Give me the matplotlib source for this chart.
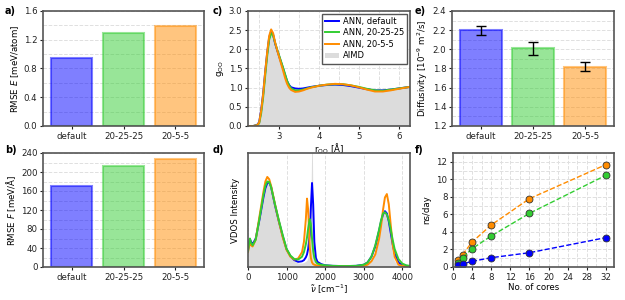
import numpy as np
import matplotlib.pyplot as plt
from matplotlib.ticker import MultipleLocator

# ---- data ----
models = ["default", "20-25-25", "20-5-5"]
rmse_e = [0.94, 1.30, 1.39]
rmse_f = [171, 212, 228]
diffusivity = [2.20, 2.01, 1.82]
diffusivity_err = [0.048, 0.066, 0.047]

cores = [1, 2, 4, 8, 16, 32]
nsday_default = [0.19, 0.34, 0.65, 1.06, 1.63, 3.35]
nsday_20_25_25 = [0.50, 1.06, 2.09, 3.54, 6.12, 10.46]
nsday_20_5_5 = [0.76, 1.41, 2.85, 4.79, 7.79, 11.67]

r_oo = [2.22, 2.35, 2.45, 2.50, 2.55, 2.60, 2.65, 2.70, 2.75, 2.80, 2.85, 2.90,
        2.95, 3.00, 3.05, 3.10, 3.15, 3.20, 3.25, 3.30, 3.40, 3.50, 3.60, 3.70,
        3.80, 4.00, 4.20, 4.40, 4.60, 4.80, 5.00, 5.20, 5.40, 5.60, 5.80, 6.00, 6.28]
g_default = [0, 0, 0.03, 0.10, 0.42, 0.85, 1.40, 1.90, 2.30, 2.47, 2.38, 2.15,
             1.98, 1.82, 1.66, 1.50, 1.33, 1.17, 1.07, 1.01, 0.98, 0.97, 0.98, 1.00,
             1.02, 1.05, 1.07, 1.08, 1.07, 1.04, 1.00, 0.96, 0.93, 0.93, 0.95, 0.98, 1.02]
g_20_25_25 = [0, 0, 0.02, 0.07, 0.33, 0.75, 1.30, 1.82, 2.25, 2.42, 2.36, 2.17,
              2.00, 1.84, 1.68, 1.52, 1.35, 1.18, 1.06, 0.98, 0.93, 0.93, 0.95, 0.98,
              1.01, 1.05, 1.08, 1.09, 1.09, 1.06, 1.02, 0.97, 0.93, 0.92, 0.95, 0.98, 1.02]
g_20_5_5 = [0, 0, 0.02, 0.09, 0.40, 0.83, 1.40, 1.92, 2.35, 2.52, 2.42, 2.18,
            1.98, 1.80, 1.62, 1.44, 1.25, 1.10, 1.00, 0.94, 0.89, 0.90, 0.93, 0.97,
            1.00, 1.05, 1.08, 1.10, 1.09, 1.06, 1.01, 0.95, 0.90, 0.90, 0.93, 0.97, 1.02]
g_aimd = [0, 0, 0.03, 0.10, 0.40, 0.83, 1.38, 1.90, 2.32, 2.48, 2.40, 2.17,
          1.99, 1.83, 1.67, 1.51, 1.34, 1.17, 1.06, 1.00, 0.96, 0.95, 0.97, 0.99,
          1.01, 1.05, 1.07, 1.08, 1.08, 1.05, 1.01, 0.96, 0.93, 0.92, 0.95, 0.98, 1.02]

freq = [0, 25, 50, 80, 120, 200, 300, 400, 450, 500, 550, 600, 700, 800, 900,
        1000, 1100, 1200, 1300, 1400, 1450, 1500, 1530, 1560, 1600, 1630, 1660,
        1690, 1720, 1760, 1800, 1900, 2000, 2200, 2500, 2800, 3000, 3100, 3200,
        3300, 3400, 3450, 3500, 3550, 3600, 3650, 3700, 3750, 3800, 3900, 4000,
        4100, 4200]
vdos_default = [0.15, 0.20, 0.245, 0.22, 0.20, 0.25, 0.42, 0.61, 0.69, 0.735, 0.745,
                0.70, 0.54, 0.40, 0.27, 0.155, 0.095, 0.06, 0.045, 0.05, 0.06, 0.085,
                0.11, 0.16, 0.28, 0.52, 0.737, 0.55, 0.22, 0.08, 0.045, 0.025, 0.015,
                0.01, 0.008, 0.01, 0.02, 0.04, 0.09, 0.18, 0.32, 0.40, 0.46, 0.49,
                0.47, 0.40, 0.30, 0.20, 0.12, 0.04, 0.015, 0.01, 0.008]
vdos_20_25_25 = [0.14, 0.20, 0.25, 0.21, 0.19, 0.24, 0.43, 0.63, 0.71, 0.75, 0.745,
                 0.70, 0.55, 0.41, 0.28, 0.16, 0.10, 0.07, 0.065, 0.09, 0.13, 0.20,
                 0.26, 0.34, 0.42, 0.38, 0.25, 0.14, 0.08, 0.045, 0.03, 0.02, 0.015,
                 0.01, 0.008, 0.01, 0.02, 0.04, 0.09, 0.19, 0.33, 0.41, 0.47, 0.48,
                 0.46, 0.41, 0.33, 0.24, 0.16, 0.07, 0.03, 0.015, 0.01]
vdos_20_5_5 = [0.13, 0.18, 0.22, 0.19, 0.18, 0.24, 0.45, 0.66, 0.75, 0.79, 0.77,
               0.71, 0.55, 0.40, 0.26, 0.15, 0.09, 0.065, 0.075, 0.13, 0.22, 0.42,
               0.60, 0.50, 0.18, 0.08, 0.04, 0.025, 0.02, 0.015, 0.012, 0.01, 0.008,
               0.008, 0.008, 0.008, 0.01, 0.02, 0.05, 0.11, 0.25, 0.36, 0.50, 0.61,
               0.64, 0.55, 0.37, 0.20, 0.09, 0.02, 0.01, 0.008, 0.006]
vdos_aimd = [0.15, 0.20, 0.24, 0.21, 0.19, 0.24, 0.43, 0.63, 0.71, 0.75, 0.75,
             0.71, 0.56, 0.41, 0.27, 0.15, 0.085, 0.05, 0.035, 0.035, 0.04, 0.05,
             0.06, 0.09, 0.20, 0.50, 1.30, 0.35, 0.10, 0.04, 0.02, 0.01, 0.008,
             0.005, 0.005, 0.006, 0.01, 0.02, 0.05, 0.13, 0.28, 0.38, 0.46, 0.50,
             0.47, 0.37, 0.23, 0.11, 0.05, 0.015, 0.008, 0.005, 0.005]

colors = ["blue", "limegreen", "darkorange"]
frame_col = "#555555"

plt.rcParams["font.size"] = 6.2
plt.rcParams["axes.linewidth"] = 1.2
plt.rcParams["axes.edgecolor"] = frame_col
plt.rcParams["axes.labelpad"] = 2
plt.rcParams["xtick.major.size"] = 2
plt.rcParams["ytick.major.size"] = 2
plt.rcParams["xtick.major.pad"] = 2
plt.rcParams["ytick.major.pad"] = 2
plt.rcParams["xtick.minor.size"] = 0
plt.rcParams["ytick.minor.size"] = 0
plt.rcParams["xtick.color"] = "#222222"
plt.rcParams["ytick.color"] = "#222222"

fig = plt.figure(figsize=(6.25, 3.0), dpi=100)
W, H = 625.0, 300.0


def add_ax(left, top, right, bottom):
    return fig.add_axes([left / W, 1 - bottom / H, (right - left) / W, (bottom - top) / H])


def grid_style(ax, which="both", axis="both"):
    ax.grid(True, which=which, axis=axis, linestyle="--", color="#e0e0e0", linewidth=0.7)
    ax.set_axisbelow(True)


def bar_panel(ax, values, ylim, major, minor, ylabel, err=None):
    x = np.arange(len(models))
    ax.bar(x, values, width=0.8, color=colors, alpha=0.5, edgecolor=colors, linewidth=1.5)
    if err is not None:
        ax.errorbar(x, values, yerr=err, fmt="none", ecolor="black", capsize=3.5, elinewidth=1)
    ax.set_xticks(x)
    ax.set_xticklabels(models)
    ax.set_xlim(-0.55, 2.55)
    ax.set_ylim(*ylim)
    ax.yaxis.set_major_locator(MultipleLocator(major))
    ax.yaxis.set_minor_locator(MultipleLocator(minor))
    grid_style(ax, axis="y")
    ax.set_ylabel(ylabel)


# a)
ax_a = add_ax(43, 11, 204, 126)
bar_panel(ax_a, rmse_e, (0, 1.6), 0.4, 0.2, "RMSE $E$ [meV/atom]")
ax_a.yaxis.set_major_formatter(plt.FormatStrFormatter("%.1f"))

# b)
ax_b = add_ax(43, 153, 204, 267)
bar_panel(ax_b, rmse_f, (0, 240), 40, 20, "RMSE $F$ [meV/Å]")

# e)
ax_e = add_ax(452, 11, 614, 126)
bar_panel(ax_e, diffusivity, (1.2, 2.4), 0.2, 0.1, "Diffusivity [10$^{-9}$ m$^2$/s]",
          err=diffusivity_err)
ax_e.yaxis.set_major_formatter(plt.FormatStrFormatter("%.1f"))

# c) RDF
ax_c = add_ax(248, 11, 410, 126)
ax_c.fill_between(r_oo, g_aimd, color="#dcdcdc", label="AIMD", lw=0)
ax_c.plot(r_oo, g_default, color=colors[0], lw=1.4, label="ANN, default")
ax_c.plot(r_oo, g_20_25_25, color=colors[1], lw=1.4, label="ANN, 20-25-25")
ax_c.plot(r_oo, g_20_5_5, color=colors[2], lw=1.4, label="ANN, 20-5-5")
ax_c.set_xlim(2.22, 6.28)
ax_c.set_ylim(0, 3)
ax_c.xaxis.set_major_locator(MultipleLocator(1))
ax_c.xaxis.set_minor_locator(MultipleLocator(0.5))
ax_c.yaxis.set_major_locator(MultipleLocator(0.5))
ax_c.yaxis.set_major_formatter(plt.FormatStrFormatter("%.1f"))
grid_style(ax_c)
ax_c.set_xlabel(r"r$_{\rm OO}$ [Å]", labelpad=1)
ax_c.set_ylabel(r"g$_{\rm OO}$", labelpad=2)
h, l = ax_c.get_legend_handles_labels()
order = [1, 2, 3, 0]
leg = ax_c.legend([h[i] for i in order], [l[i] for i in order], loc="upper right",
                  fontsize=6.0, handlelength=1.6, fancybox=False, framealpha=1,
                  borderaxespad=0.3, labelspacing=0.3, borderpad=0.4, handletextpad=0.5)
leg.get_frame().set_edgecolor(frame_col)
leg.get_frame().set_linewidth(1.0)

# d) VDOS
ax_d = add_ax(248, 153, 410, 267)
ax_d.fill_between(freq, vdos_aimd, color="#dcdcdc", lw=0)
ax_d.plot(freq, vdos_default, color=colors[0], lw=1.4)
ax_d.plot(freq, vdos_20_5_5, color=colors[2], lw=1.4)
ax_d.plot(freq, vdos_20_25_25, color=colors[1], lw=1.4)
ax_d.set_xlim(0, 4200)
ax_d.set_ylim(0, 1.0)
ax_d.set_yticks([])
ax_d.xaxis.set_major_locator(MultipleLocator(1000))
grid_style(ax_d, which="major", axis="x")
ax_d.set_xlabel(r"$\tilde{\nu}$ [cm$^{-1}$]", labelpad=1)
ax_d.set_ylabel("VDOS Intensity", labelpad=6)

# f) scaling
ax_f = add_ax(453, 153, 614, 267)
for vals, c in zip([nsday_20_5_5, nsday_20_25_25, nsday_default],
                   [colors[2], colors[1], colors[0]]):
    ax_f.plot(cores, vals, "--", color=c, lw=1.0, marker="o", markersize=5,
              markerfacecolor=c, markeredgecolor="#333333", markeredgewidth=0.6)
ax_f.set_xlim(0, 33.7)
ax_f.set_ylim(0, 13)
ax_f.xaxis.set_major_locator(MultipleLocator(4))
ax_f.xaxis.set_minor_locator(MultipleLocator(2))
ax_f.yaxis.set_major_locator(MultipleLocator(2))
ax_f.yaxis.set_minor_locator(MultipleLocator(1))
grid_style(ax_f)
ax_f.set_xlabel("No. of cores", labelpad=1)
ax_f.set_ylabel("ns/day", labelpad=4)

# panel letters
for txt, x, y in [("a)", 5, 11), ("b)", 5, 150), ("c)", 213, 11),
                  ("d)", 213, 150), ("e)", 415, 11), ("f)", 415, 150)]:
    fig.text(x / W, 1 - y / H, txt, fontweight="bold", fontsize=7, va="center")

plt.savefig("out.png", dpi=100)
